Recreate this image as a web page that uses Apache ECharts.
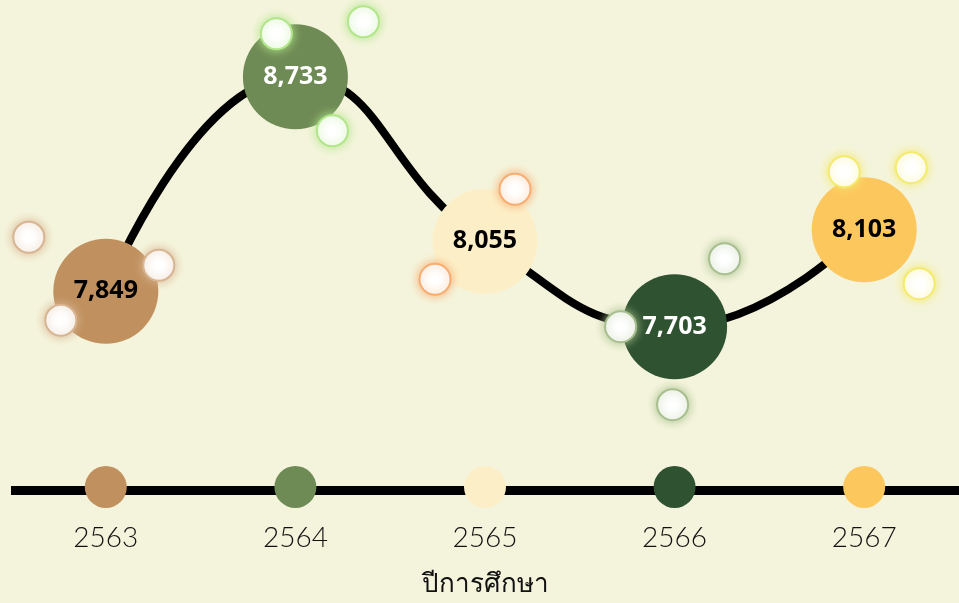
<!DOCTYPE html>
<html>
<head>
<meta charset="utf-8">
<script src="https://cdn.jsdelivr.net/npm/echarts@6/dist/echarts.min.js"></script>
<style>
  html, body { margin: 0; padding: 0; background: #f4f4dc; }
  #chart { width: 959px; height: 603px; }
</style>
</head>
<body>
<div id="chart"></div>
<script>
// ข้อมูล
const years = ['2563', '2564', '2565', '2566', '2567'];
const students = [7849, 8733, 8055, 7703, 8103];
const axisTitle = 'ปีการศึกษา';

// สีของแต่ละปี
const pointColors = ['#c0915f', '#6f8b55', '#fcefc8', '#2f5230', '#fcc75d'];
const labelColors = ['#000', '#fff', '#000', '#fff', '#000'];
const glowColors = ['#d8b592', '#b2e68a', '#f6ad72', '#a7bf8e', '#f4ea6e'];
// ตำแหน่งวงกลมตกแต่ง (px จากจุดกลาง)
const bubbleOffsets = [
  [[-77, -54], [53, -26], [-45, 29]],
  [[-19, -43], [68, -55], [37, 54]],
  [[30, -52], [-50, 38]],
  [[50, -68], [-54, 0], [-2, 78]],
  [[-20, -58], [47, -62], [55, 54]]
];
const yMin = 7030;
const yMax = 9000;

let chart = echarts.init(document.getElementById('chart'));

let lineData = students.map((v, i) => ({
  value: v,
  itemStyle: { color: pointColors[i] },
  label: { color: labelColors[i] }
}));

let baseDots = years.map((y, i) => ({
  value: [y, yMin],
  itemStyle: { color: pointColors[i] }
}));

let bubbles = [];
years.forEach((y, i) => {
  bubbleOffsets[i].forEach(off => {
    bubbles.push({
      value: [y, students[i]],
      symbolOffset: off,
      itemStyle: { shadowColor: glowColors[i], borderColor: glowColors[i] }
    });
  });
});

let option = {
  backgroundColor: '#f4f4dc',
  animation: false,
  grid: { left: 11, right: 0, top: 12, bottom: 111 },
  xAxis: {
    type: 'category',
    data: years,
    boundaryGap: true,
    axisLine: { lineStyle: { color: '#000', width: 9, cap: 'butt' } },
    axisTick: { show: false },
    axisLabel: {
      color: '#111',
      fontSize: 28,
      fontFamily: 'Lato, "Noto Sans", sans-serif',
      fontWeight: 300,
      margin: 34
    },
    name: axisTitle,
    nameLocation: 'middle',
    nameGap: 82,
    nameTextStyle: {
      color: '#111',
      fontSize: 26,
      fontFamily: '"Noto Sans", sans-serif',
      fontWeight: 300
    }
  },
  yAxis: {
    type: 'value',
    min: yMin,
    max: yMax,
    show: false
  },
  series: [
    {
      type: 'line',
      data: lineData,
      smooth: 0.5,
      symbol: 'circle',
      symbolSize: 105,
      lineStyle: { color: '#000', width: 8 },
      label: {
        show: true,
        position: 'inside',
        fontSize: 25,
        fontWeight: 'bold',
        fontFamily: '"Noto Sans", sans-serif',
        formatter: p => p.value.toLocaleString('en-US')
      },
      z: 3
    },
    {
      type: 'scatter',
      data: baseDots,
      symbolSize: 42,
      symbolOffset: [0, -3],
      clip: false,
      itemStyle: { opacity: 1 },
      z: 2
    },
    {
      type: 'scatter',
      data: bubbles,
      symbolSize: 31,
      clip: false,
      itemStyle: { color: '#fff', opacity: 1, borderWidth: 2, shadowBlur: 10 },
      z: 5
    }
  ]
};

chart.setOption(option);
</script>
</body>
</html>
